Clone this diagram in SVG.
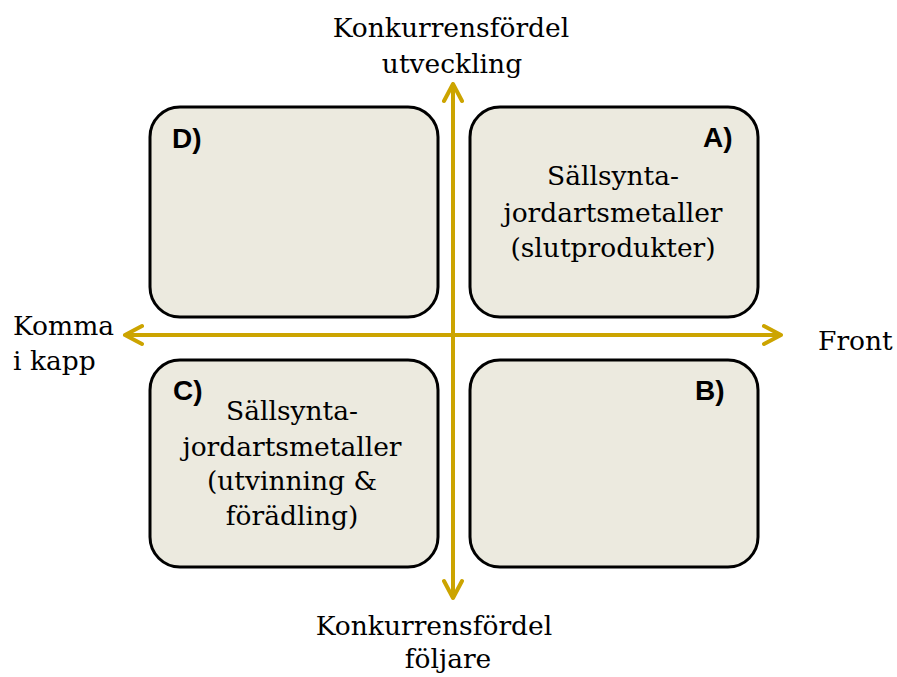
<svg xmlns="http://www.w3.org/2000/svg" width="897" height="677" viewBox="0 0 897 677">
<style>
.box{fill:#ECEADF;stroke:#000;stroke-width:3}
.ax{stroke:#CCA400;stroke-width:4;fill:none;stroke-linecap:round;stroke-linejoin:round}
.t{font-family:"DejaVu Serif","Liberation Serif",serif;font-size:26.5px;fill:#000;text-anchor:middle}
.tl{font-family:"DejaVu Serif","Liberation Serif",serif;font-size:26.5px;fill:#000}
.lab{font-family:"Liberation Sans",Arial,sans-serif;font-weight:bold;font-size:28px;fill:#000}
</style>
<rect width="897" height="677" fill="#fff"/>
<g id="nodeD"><rect class="box" x="150" y="107" width="288" height="210" rx="30"/><text class="lab" x="172" y="148">D)</text></g>
<g id="nodeA"><rect class="box" x="470" y="107" width="288" height="210" rx="30"/><text class="lab" x="703" y="147">A)</text>
<text class="t" x="613" y="185">Sällsynta-</text><text class="t" x="613" y="222">jordartsmetaller</text><text class="t" x="613" y="257">(slutprodukter)</text></g>
<g id="nodeC"><rect class="box" x="150" y="360" width="288" height="207" rx="30"/><text class="lab" x="173" y="400">C)</text>
<text class="t" x="292" y="420">Sällsynta-</text><text class="t" x="292" y="456">jordartsmetaller</text><text class="t" x="292" y="490">(utvinning &amp;</text><text class="t" x="292" y="525">förädling)</text></g>
<g id="nodeB"><rect class="box" x="470" y="360" width="288" height="207" rx="30"/><text class="lab" x="695" y="400">B)</text></g>
<g id="connectors">
<path class="ax" d="M125,335 H781 M764,326 L781,335 L764,344 M125,335 L142,326 M125,335 L142,344"/>
<path class="ax" d="M453,84 V598 M444,101 L453,84 L462,101 M444,581 L453,598 L462,581"/>
</g>
<g id="axisLabels">
<text class="t" x="451" y="37">Konkurrensfördel</text><text class="t" x="452" y="73">utveckling</text>
<text class="t" x="434" y="635">Konkurrensfördel</text><text class="t" x="448" y="668">följare</text>
<text class="tl" x="13" y="335">Komma</text><text class="tl" x="13" y="370">i kapp</text>
<text class="tl" x="818" y="350">Front</text>
</g>
</svg>
